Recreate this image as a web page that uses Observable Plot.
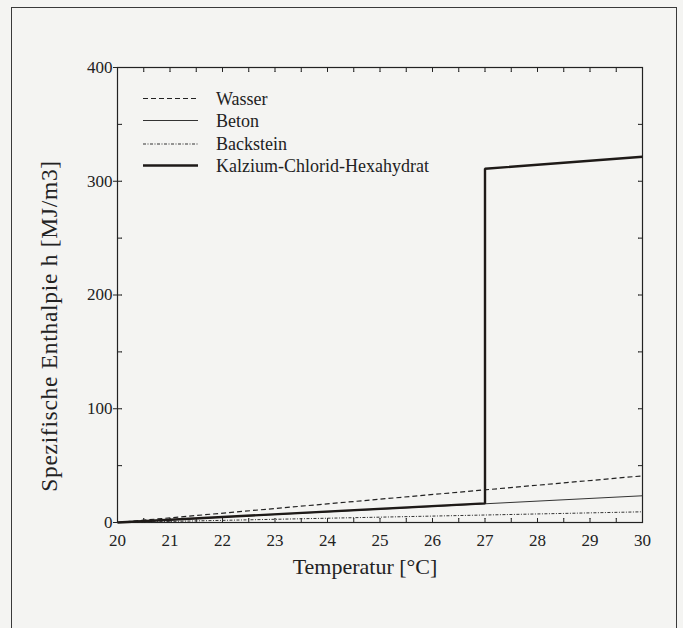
<!DOCTYPE html>
<html><head><meta charset="utf-8">
<script src="https://cdn.jsdelivr.net/npm/d3@7"></script>
<script src="https://cdn.jsdelivr.net/npm/@observablehq/plot@0.6"></script>
<style>
html,body{margin:0;padding:0;background:#f4f4f2;}
#wrap{position:relative;width:683px;height:628px;overflow:hidden;background:#f4f4f2;}
#border{position:absolute;left:11px;top:7px;width:666px;height:660px;border:1.5px solid #3a3a3a;box-sizing:border-box;}
#chart{position:absolute;left:0;top:0;}
#legend{position:absolute;left:0;top:0;}
</style></head><body>
<div id="wrap"><div id="border"></div><div id="chart"></div><svg id="legend" width="683" height="628"></svg></div>
<script>
// Data
const seriesNames = ["Wasser", "Beton", "Backstein", "Kalzium-Chlorid-Hexahydrat"];
const wasserT = [20, 30];
const wasserH = [0, 41];
const betonT = [20, 30];
const betonH = [0, 23.5];
const backsteinT = [20, 30];
const backsteinH = [0, 9.4];
const kalziumT = [20, 27, 27, 30];
const kalziumH = [0, 16.8, 311, 321.5];

// Ticks
const xTickLabels = [20, 21, 22, 23, 24, 25, 26, 27, 28, 29, 30];
const xInnerTicks = [20.5, 21, 21.5, 22, 22.5, 23, 23.5, 24, 24.5, 25, 25.5, 26, 26.5, 27, 27.5, 28, 28.5, 29, 29.5];
const yTickLabels = [0, 100, 200, 300, 400];
const yInnerTicks = [50, 100, 150, 200, 250, 300, 350];

const xTitle = "Temperatur [°C]";
const yTitle = "Spezifische Enthalpie h [MJ/m3]";

const styles = {
  "Wasser": {stroke: "#222", strokeWidth: 1.2, strokeDasharray: "5,3"},
  "Beton": {stroke: "#333", strokeWidth: 1, strokeDasharray: null},
  "Backstein": {stroke: "#333", strokeWidth: 1, strokeDasharray: "3,1.5,1,1.5"},
  "Kalzium-Chlorid-Hexahydrat": {stroke: "#1e1a18", strokeWidth: 2.4, strokeDasharray: null}
};

const mk = (T, H) => T.map((t, i) => ({t, h: H[i]}));
const series = {
  "Wasser": mk(wasserT, wasserH),
  "Beton": mk(betonT, betonH),
  "Backstein": mk(backsteinT, backsteinH),
  "Kalzium-Chlorid-Hexahydrat": mk(kalziumT, kalziumH)
};

const font = "'Liberation Serif', 'Times New Roman', serif";
const ink = "#222";

const tickVec = (data, opts) => Plot.vector(data, {length: 4, r: 0, anchor: "start", stroke: ink, strokeWidth: 1, ...opts});

const chart = Plot.plot({
  width: 683,
  height: 628,
  marginLeft: 117,
  marginRight: 41,
  marginTop: 67,
  marginBottom: 106,
  style: {fontFamily: font, background: "transparent", color: ink, overflow: "visible"},
  x: {domain: [20, 30]},
  y: {domain: [0, 400]},
  marks: [
    Plot.frame({stroke: ink, strokeWidth: 1.2}),
    // inward ticks
    tickVec(xInnerTicks, {x: d => d, frameAnchor: "bottom", rotate: 0}),
    tickVec(xInnerTicks, {x: d => d, frameAnchor: "top", rotate: 180}),
    tickVec(yInnerTicks, {y: d => d, frameAnchor: "right", rotate: -90}),
    tickVec(yInnerTicks, {y: d => d, frameAnchor: "left", rotate: 90}),
    Plot.axisX({ticks: xTickLabels, tickSize: 0, tickPadding: 11, fontSize: 17, label: null, tickFormat: d => String(d)}),
    Plot.axisY({ticks: yTickLabels, tickSize: 4, tickPadding: 1, fontSize: 17, label: null, tickFormat: d => String(d)}),
    ...seriesNames.map(name => Plot.line(series[name], {x: "t", y: "h", ...styles[name], strokeLinejoin: "miter", strokeLinecap: "butt"})),
    Plot.text([xTitle], {text: d => d, frameAnchor: "bottom", textAnchor: "middle", dx: -15, dy: 44, fontSize: 22, lineAnchor: "middle", fill: ink, style: "letter-spacing:0.2px"}),
    Plot.text([yTitle], {text: d => d, frameAnchor: "left", textAnchor: "middle", rotate: -90, dx: -68, dy: 31, fontSize: 23.5, lineAnchor: "middle", fill: ink, letterSpacing: "0.7px"})
  ]
});
document.getElementById("chart").appendChild(chart);
// letter spacing for the axis titles
d3.select(chart).selectAll("text").filter(function() { return this.textContent === yTitle; }).style("letter-spacing", "0.7px");

// Legend inside the plot area (top left)
const leg = d3.select("#legend");
const legY = [98.5, 120.5, 144, 165.5];
seriesNames.forEach((name, i) => {
  const s = styles[name];
  leg.append("line")
    .attr("x1", 143).attr("x2", 198)
    .attr("y1", legY[i]).attr("y2", legY[i])
    .attr("stroke", s.stroke).attr("stroke-width", s.strokeWidth)
    .attr("stroke-dasharray", s.strokeDasharray);
  leg.append("text")
    .attr("x", 216).attr("y", legY[i] + 6)
    .attr("font-family", font).attr("font-size", 18)
    .attr("fill", ink)
    .text(name);
});
</script>
</body></html>
